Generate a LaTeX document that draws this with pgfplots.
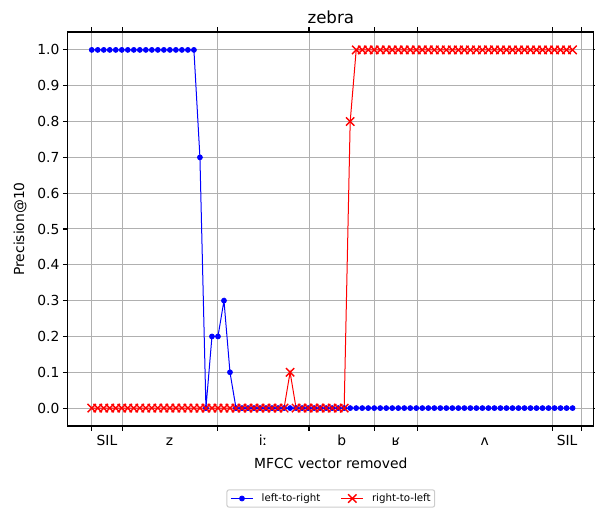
\documentclass[border=0pt]{standalone}
\usepackage{pgfplots}
\pgfplotsset{compat=1.18}
\usepackage{fontspec}
\setmainfont{DejaVu Sans}
\definecolor{gridgray}{HTML}{B0B0B0}
\definecolor{legframe}{HTML}{CCCCCC}

\begin{document}
\begin{tikzpicture}
\useasboundingbox (0,0) rectangle (595bp,508bp);
\begin{axis}[
  at={(67.7bp,82bp)}, anchor=south west,
  scale only axis, width=526.2bp, height=394bp,
  xmin=-4, xmax=83.55, ymin=-0.05, ymax=1.05,
  axis line style={line width=1.1bp},
  tick align=outside, major tick length=4.86bp,
  tick style={line width=1.1bp, black},
  xtick={0,5.05,20.85,36.15,47.0,54.15,76.65,81.5},
  xticklabels={},
  extra x ticks={2.53,12.95,28.5,41.58,50.58,65.4,79.08},
  extra x tick labels={SIL,z,iː,b,ʁ,ʌ,SIL},
  extra x tick style={grid=none, major tick length=0pt,
    xticklabel style={anchor=north, inner sep=0pt, text height=10.1bp, text depth=0pt, yshift=-9.7bp}},
  ytick={0,0.1,0.2,0.3,0.4,0.5,0.6,0.7,0.8,0.9,1.0},
  grid=major, grid style={gridgray, line width=1bp},
  /pgf/number format/assume math mode=true,
  yticklabel style={/pgf/number format/.cd, fixed, fixed zerofill, precision=1},
  ticklabel style={font=\fontsize{13.9}{16}\selectfont},
  title={zebra},
  title style={at={(0.5,1)}, anchor=base, yshift=2.3bp, font=\fontsize{16.7}{20}\selectfont},
  xlabel={MFCC vector removed},
  xlabel style={at={(axis description cs:0.5,0)}, anchor=base, yshift=-42bp, font=\fontsize{13.9}{16}\selectfont},
  ylabel={Precision@10},
  ylabel style={at={(axis description cs:-0.0906,0.5)}, anchor=center, font=\fontsize{13.9}{16}\selectfont},
  legend columns=2,
  legend style={at={(0.5,-0.184)}, anchor=center, font=\fontsize{10.3}{12}\selectfont,
    draw=legframe, rounded corners=2bp, line width=1bp,
    inner xsep=3.5bp, inner ysep=3.5bp, column sep=7.7bp,
    nodes={inner sep=0.5bp},
    /tikz/every even column/.append style={column sep=20bp}},
  legend image code/.code={\draw[mark repeat=2,mark phase=2] plot coordinates {(0bp,0bp) (11bp,0bp) (22bp,0bp)};},
]
\addplot[color=blue, line width=1bp, mark=*, mark size=2.5bp, mark options={solid, fill=blue, line width=0.7bp}] coordinates {
(0,1) (1,1) (2,1) (3,1) (4,1) (5,1) (6,1) (7,1) (8,1) (9,1)
(10,1) (11,1) (12,1) (13,1) (14,1) (15,1) (16,1) (17,1) (18,0.7) (19,0)
(20,0.2) (21,0.2) (22,0.3) (23,0.1) (24,0) (25,0) (26,0) (27,0) (28,0) (29,0)
(30,0) (31,0) (32,0) (33,0) (34,0) (35,0) (36,0) (37,0) (38,0) (39,0)
(40,0) (41,0) (42,0) (43,0) (44,0) (45,0) (46,0) (47,0) (48,0) (49,0)
(50,0) (51,0) (52,0) (53,0) (54,0) (55,0) (56,0) (57,0) (58,0) (59,0)
(60,0) (61,0) (62,0) (63,0) (64,0) (65,0) (66,0) (67,0) (68,0) (69,0)
(70,0) (71,0) (72,0) (73,0) (74,0) (75,0) (76,0) (77,0) (78,0) (79,0)
(80,0)
};
\addlegendentry{left-to-right}
\addplot[color=red, line width=1bp, mark=x, mark size=5.9bp, mark options={solid, line width=1.39bp}] coordinates {
(0,0) (1,0) (2,0) (3,0) (4,0) (5,0) (6,0) (7,0) (8,0) (9,0)
(10,0) (11,0) (12,0) (13,0) (14,0) (15,0) (16,0) (17,0) (18,0) (19,0)
(20,0) (21,0) (22,0) (23,0) (24,0) (25,0) (26,0) (27,0) (28,0) (29,0)
(30,0) (31,0) (32,0) (33,0.1) (34,0) (35,0) (36,0) (37,0) (38,0) (39,0)
(40,0) (41,0) (42,0) (43,0.8) (44,1) (45,1) (46,1) (47,1) (48,1) (49,1)
(50,1) (51,1) (52,1) (53,1) (54,1) (55,1) (56,1) (57,1) (58,1) (59,1)
(60,1) (61,1) (62,1) (63,1) (64,1) (65,1) (66,1) (67,1) (68,1) (69,1)
(70,1) (71,1) (72,1) (73,1) (74,1) (75,1) (76,1) (77,1) (78,1) (79,1)
(80,1)
};
\addlegendentry{right-to-left}
\end{axis}
\end{tikzpicture}
\end{document}
